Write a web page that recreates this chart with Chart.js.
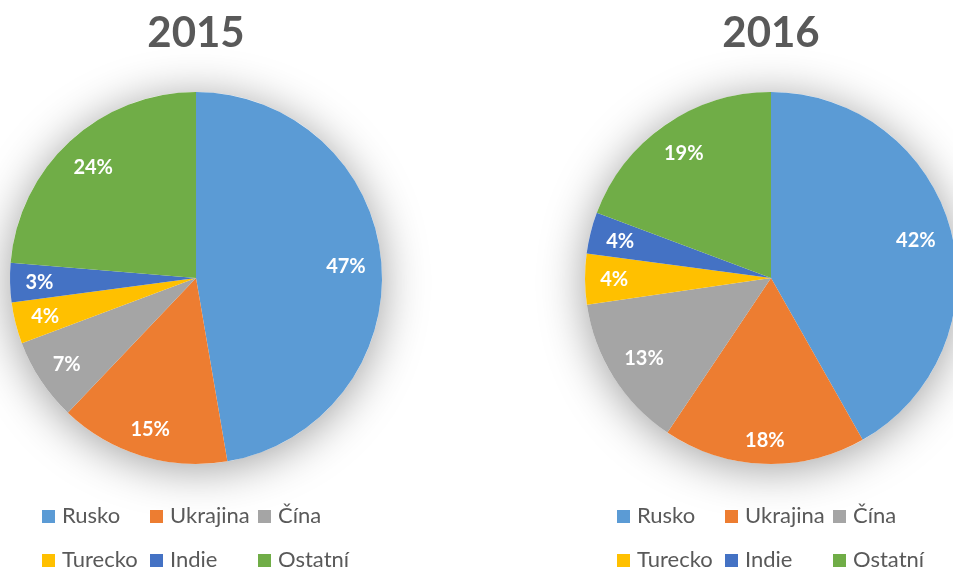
<!DOCTYPE html>
<html>
<head>
<meta charset="utf-8">
<script src="https://cdn.jsdelivr.net/npm/chart.js@4/dist/chart.umd.min.js"></script>
<style>
  html, body { margin: 0; padding: 0; background: #fff; }
  body { width: 953px; height: 571px; overflow: hidden; position: relative; font-family: Lato, "Open Sans", sans-serif; }
  canvas { position: absolute; }
  .title { position: absolute; top: 6px; width: 300px; text-align: center; font: bold 42px Lato, sans-serif; color: #595959; line-height: normal; }
  .leg { position: absolute; font: 22px Lato, sans-serif; color: #595959; line-height: normal; white-space: nowrap; }
  .leg .sw { position: absolute; left: 0; top: 8px; width: 13px; height: 13px; }
  .leg .tx { position: absolute; left: 20px; top: -1px; }
</style>
</head>
<body>
<canvas id="c2015" width="492" height="492"></canvas>
<canvas id="c2016" width="492" height="492"></canvas>
<script>
// ---- data ----
const categories = ["Rusko", "Ukrajina", "Čína", "Turecko", "Indie", "Ostatní"];
const years = ["2015", "2016"];
const values2015 = [47.3, 14.8, 7.2, 3.6, 3.4, 23.7];
const values2016 = [41.8, 17.6, 13.3, 4.4, 3.6, 19.3];
const colors = ["#5B9BD5", "#ED7D31", "#A5A5A5", "#FFC000", "#4472C4", "#70AD47"];

// ---- layout ----
const R = 186;
const PAD = 60;
const SIZE = 2 * (R + PAD);
const centers = [{ x: 196, y: 278 }, { x: 771, y: 278 }];

const shadowPlugin = {
  id: 'pieShadow',
  beforeDatasetsDraw(chart) {
    const arc = chart.getDatasetMeta(0).data[0];
    if (!arc) return;
    const ctx = chart.ctx;
    ctx.save();
    ctx.shadowColor = 'rgba(0,0,0,0.38)';
    ctx.shadowBlur = 46;
    ctx.shadowOffsetY = 5;
    ctx.fillStyle = '#ffffff';
    ctx.beginPath();
    ctx.arc(arc.x, arc.y, arc.outerRadius, 0, Math.PI * 2);
    ctx.fill();
    ctx.restore();
  }
};

const labelPlugin = {
  id: 'pctLabels',
  afterDatasetsDraw(chart) {
    const ctx = chart.ctx;
    const ds = chart.data.datasets[0];
    const total = ds.data.reduce((a, b) => a + b, 0);
    const meta = chart.getDatasetMeta(0);
    ctx.save();
    ctx.font = 'bold 20px Lato, sans-serif';
    ctx.fillStyle = '#ffffff';
    ctx.textAlign = 'center';
    ctx.textBaseline = 'middle';
    meta.data.forEach((arc, i) => {
      const txt = Math.round(ds.data[i] / total * 100) + '%';
      const mid = (arc.startAngle + arc.endAngle) / 2;
      const ux = Math.cos(mid), uy = Math.sin(mid);
      const hw = ctx.measureText(txt).width / 2 + 1;
      const hh = 8;
      const D = arc.outerRadius - 14;
      const b = Math.abs(ux) * hw + Math.abs(uy) * hh;
      const c = hw * hw + hh * hh - D * D;
      const r = -b + Math.sqrt(b * b - c);
      ctx.fillText(txt, arc.x + ux * r, arc.y + uy * r + 1);
    });
    ctx.restore();
  }
};

function makePie(id, values, center, year) {
  const cv = document.getElementById(id);
  cv.style.left = (center.x - SIZE / 2) + 'px';
  cv.style.top = (center.y - SIZE / 2) + 'px';
  cv.style.width = SIZE + 'px';
  cv.style.height = SIZE + 'px';
  new Chart(cv, {
    type: 'pie',
    data: {
      labels: categories,
      datasets: [{ data: values, backgroundColor: colors, borderWidth: 0 }]
    },
    options: {
      responsive: false,
      animation: false,
      layout: { padding: PAD },
      plugins: { legend: { display: false }, tooltip: { enabled: false }, title: { display: false } }
    },
    plugins: [shadowPlugin, labelPlugin]
  });

  // title
  const t = document.createElement('div');
  t.className = 'title';
  t.textContent = year;
  t.style.left = (center.x - 150) + 'px';
  document.body.appendChild(t);

  // legend (3 columns x 2 rows)
  const colX = [-154, -46, 62];
  const rowTop = [502, 546];
  categories.forEach((name, i) => {
    const d = document.createElement('div');
    d.className = 'leg';
    d.style.left = (center.x + colX[i % 3]) + 'px';
    d.style.top = rowTop[Math.floor(i / 3)] + 'px';
    const sw = document.createElement('span');
    sw.className = 'sw';
    sw.style.background = colors[i];
    const tx = document.createElement('span');
    tx.className = 'tx';
    tx.textContent = name;
    d.appendChild(sw); d.appendChild(tx);
    document.body.appendChild(d);
  });
}

makePie('c2015', values2015, centers[0], years[0]);
makePie('c2016', values2016, centers[1], years[1]);
</script>
</body>
</html>
